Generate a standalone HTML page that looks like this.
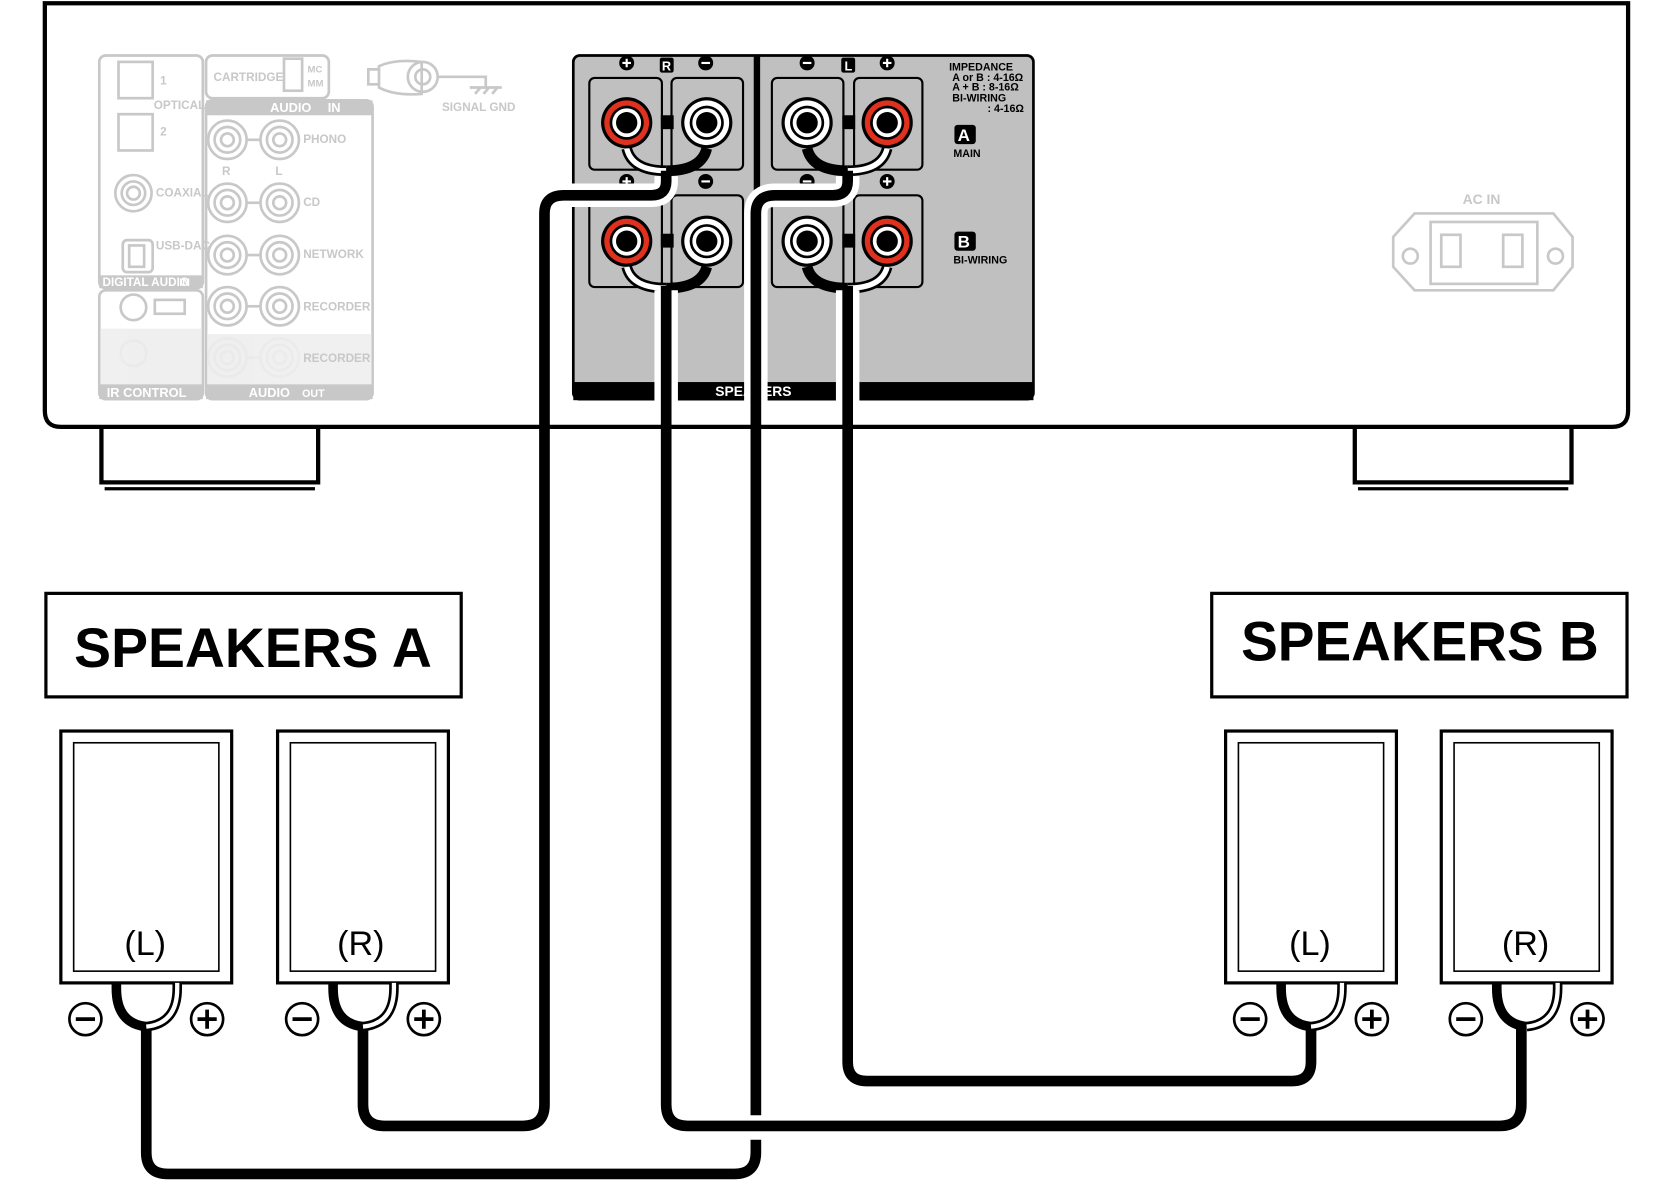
<!DOCTYPE html>
<html><head><meta charset="utf-8"><style>
html,body{margin:0;padding:0;background:#fff;width:1674px;height:1191px;overflow:hidden}
svg{display:block}
text{font-family:"Liberation Sans",sans-serif}
</style></head><body>
<svg width="1674" height="1191" viewBox="0 0 1568 1116" preserveAspectRatio="none" xmlns="http://www.w3.org/2000/svg">
<!-- chassis -->
<path d="M42 3 H1525 V385 Q1525 400 1510 400 H57 Q42 400 42 385 Z" fill="none" stroke="#000" stroke-width="4"/>
<path d="M95 400 V452 H298 V400" fill="none" stroke="#000" stroke-width="4"/>
<path d="M98 458 H295" stroke="#000" stroke-width="3"/>
<path d="M1269 400 V452 H1472 V400" fill="none" stroke="#000" stroke-width="4"/>
<path d="M1272 458 H1469" stroke="#000" stroke-width="3"/>

<!-- faded left panel -->
<g fill="none" stroke="#c8c8c8" stroke-width="2.5">
<rect x="93" y="52" width="97" height="218" rx="6"/>
<rect x="93" y="272" width="97" height="102" rx="6"/>
<rect x="193" y="52" width="115" height="40" rx="6"/>
<rect x="193" y="94" width="156" height="280" rx="6"/>
<rect x="111" y="58" width="32" height="34"/>
<rect x="111" y="107" width="32" height="34"/>
<circle cx="125" cy="181" r="17"/><circle cx="125" cy="181" r="11"/><circle cx="125" cy="181" r="6"/>
<rect x="115" y="225" width="28" height="30" rx="4"/><rect x="121" y="230" width="14" height="20"/>
<circle cx="125" cy="288" r="12"/><circle cx="125" cy="331" r="12"/>
<rect x="145" y="281" width="28" height="13"/>
<rect x="266" y="55" width="17" height="30"/>
<g id="rc"><circle cx="213" cy="131" r="18"/><circle cx="213" cy="131" r="12"/><circle cx="213" cy="131" r="6"/><circle cx="262" cy="131" r="18"/><circle cx="262" cy="131" r="12"/><circle cx="262" cy="131" r="6"/><path d="M231 131 H244"/></g>
<use href="#rc" y="59"/><use href="#rc" y="108"/><use href="#rc" y="156"/><use href="#rc" y="204"/>
<path d="M345 65 h10 v14 h-10z M355 62 Q370 55 395 58 L395 88 Q370 90 355 82 Z"/>
<circle cx="396" cy="72" r="14"/><circle cx="396" cy="72" r="7"/>
<path d="M410 72 H455 V82 M440 82 H470 M445 88 l5 -6 M453 88 l5 -6 M461 88 l5 -6"/>
<path d="M1325 200 H1455 L1473 222 V250 L1455 272 H1325 L1305 250 V222 Z"/>
<rect x="1340" y="208" width="100" height="58"/>
<rect x="1350" y="220" width="18" height="30"/><rect x="1408" y="220" width="18" height="30"/>
<circle cx="1321" cy="240" r="7"/><circle cx="1457" cy="240" r="7"/>
</g>
<g fill="#c8c8c8">
<rect x="193" y="94" width="156" height="14"/>
<rect x="93" y="258" width="97" height="12"/>
<rect x="93" y="360" width="97" height="14"/>
<rect x="193" y="360" width="156" height="14"/>
</g>
<g fill="#eee" opacity=".9"><rect x="94" y="308" width="95" height="52"/><rect x="194" y="313" width="154" height="47"/></g>
<g font-size="11" font-weight="bold" fill="#c8c8c8">
<text x="150" y="79">1</text><text x="150" y="127">2</text>
<text x="144" y="102">OPTICAL</text><text x="146" y="184">COAXIAL</text><text x="146" y="234">USB-DAC</text>
<text x="200" y="76">CARTRIDGE</text><text x="288" y="68" font-size="9">MC</text><text x="288" y="81" font-size="9">MM</text>
<text x="284" y="134">PHONO</text><text x="284" y="193">CD</text><text x="284" y="242">NETWORK</text><text x="284" y="291">RECORDER</text><text x="284" y="339">RECORDER</text>
<text x="208" y="164">R</text><text x="258" y="164">L</text>
<text x="414" y="104">SIGNAL GND</text>
<text x="1370" y="191" font-size="13">AC IN</text>
</g>
<g font-size="12" font-weight="bold" fill="#fff">
<text x="253" y="105">AUDIO</text><text x="307" y="105">IN</text>
<text x="96" y="268" font-size="11">DIGITAL AUDIO</text><text x="168" y="268" font-size="10">IN</text>
<text x="100" y="372">IR CONTROL</text><text x="233" y="372">AUDIO</text><text x="283" y="372" font-size="10">OUT</text>
</g>

<!-- speaker panel -->
<rect x="537" y="52" width="431" height="322" rx="6" fill="#c0c0c0" stroke="#000" stroke-width="2.5"/>
<rect x="537" y="358" width="431" height="17" fill="#000"/>
<rect x="706" y="52" width="6" height="308" fill="#000"/>
<text x="670" y="371" font-size="13" font-weight="bold" fill="#fff">SPEAKERS</text>
<g fill="none" stroke="#000" stroke-width="2">
<rect x="552" y="73" width="68" height="86" rx="5"/><rect x="629" y="73" width="67" height="86" rx="5"/>
<rect x="723" y="73" width="67" height="86" rx="5"/><rect x="800" y="73" width="64" height="86" rx="5"/>
<rect x="552" y="183" width="68" height="86" rx="5"/><rect x="629" y="183" width="67" height="86" rx="5"/>
<rect x="723" y="183" width="67" height="86" rx="5"/><rect x="800" y="183" width="64" height="86" rx="5"/>
</g>
<g fill="#000"><rect x="619" y="108" width="12" height="13"/><rect x="789" y="108" width="12" height="13"/><rect x="619" y="219" width="12" height="13"/><rect x="789" y="219" width="12" height="13"/></g>
<defs>
<g id="tr"><circle r="24" fill="#000"/><circle r="21" fill="#e0301e"/><circle r="16" fill="#000"/><circle r="13.5" fill="#fff"/><circle r="10" fill="#000"/></g>
<g id="tw"><circle r="24" fill="#000"/><circle r="21" fill="#fff"/><circle r="16" fill="#000"/><circle r="13.5" fill="#fff"/><circle r="10" fill="#000"/></g>
<g id="pl"><circle r="7" fill="#000"/><path d="M-4 0 H4 M0 -4 V4" stroke="#fff" stroke-width="2"/></g>
<g id="mi"><circle r="7" fill="#000"/><path d="M-4 0 H4" stroke="#fff" stroke-width="2"/></g>
</defs>
<!-- jumper arcs -->
<g fill="none" stroke-linecap="butt">
<path d="M587 139 Q592 160 624 160" stroke="#000" stroke-width="10"/><path d="M587 139 Q592 160 624 160" stroke="#fff" stroke-width="5"/>
<path d="M662 139 Q657 160 624 160" stroke="#000" stroke-width="10"/>
<path d="M831 139 Q826 160 794 160" stroke="#000" stroke-width="10"/><path d="M831 139 Q826 160 794 160" stroke="#fff" stroke-width="5"/>
<path d="M756 139 Q761 160 794 160" stroke="#000" stroke-width="10"/>
<path d="M587 250 Q592 270 624 270" stroke="#000" stroke-width="10"/><path d="M587 250 Q592 270 624 270" stroke="#fff" stroke-width="5"/>
<path d="M662 250 Q657 270 624 270" stroke="#000" stroke-width="10"/>
<path d="M831 250 Q826 270 794 270" stroke="#000" stroke-width="10"/><path d="M831 250 Q826 270 794 270" stroke="#fff" stroke-width="5"/>
<path d="M756 250 Q761 270 794 270" stroke="#000" stroke-width="10"/>
</g>
<use href="#tr" x="587" y="115"/><use href="#tw" x="662" y="115"/><use href="#tw" x="756" y="115"/><use href="#tr" x="831" y="115"/>
<use href="#tr" x="587" y="226"/><use href="#tw" x="662" y="226"/><use href="#tw" x="756" y="226"/><use href="#tr" x="831" y="226"/>
<use href="#pl" x="587" y="59"/><use href="#mi" x="661" y="59"/><use href="#mi" x="756" y="59"/><use href="#pl" x="831" y="59"/>
<use href="#pl" x="587" y="170"/><use href="#mi" x="661" y="170"/><use href="#mi" x="756" y="170"/><use href="#pl" x="831" y="170"/>
<rect x="618" y="54" width="13" height="14" rx="2" fill="#000"/><text x="620" y="66" font-size="12" font-weight="bold" fill="#fff">R</text>
<rect x="788" y="54" width="13" height="14" rx="2" fill="#000"/><text x="791" y="66" font-size="12" font-weight="bold" fill="#fff">L</text>
<g font-size="10" font-weight="bold" fill="#000">
<text x="889" y="66">IMPEDANCE</text><text x="892" y="76">A or B : 4-16Ω</text><text x="892" y="85">A  +  B : 8-16Ω</text><text x="892" y="95">BI-WIRING</text><text x="925" y="105">: 4-16Ω</text>
<text x="893" y="147">MAIN</text><text x="893" y="247">BI-WIRING</text>
</g>
<rect x="894" y="117" width="20" height="18" rx="3" fill="#000"/><text x="897" y="132" font-size="16" font-weight="bold" fill="#fff">A</text>
<rect x="894" y="217" width="20" height="18" rx="3" fill="#000"/><text x="897" y="232" font-size="16" font-weight="bold" fill="#fff">B</text>

<!-- cables -->
<g fill="none" stroke-linejoin="round">
<g stroke="#fff" stroke-width="22">
<path d="M624 165 V170 Q624 183 610 183 H528 Q510 183 510 200 V395"/>
<path d="M794 165 V170 Q794 183 780 183 H726 Q708 183 708 200 V395"/>
<path d="M624 272 V395"/>
<path d="M794 272 V395"/>
</g>
<g stroke="#000" stroke-width="10">
<path d="M624 160 V170 Q624 183 610 183 H528 Q510 183 510 200 V1035 Q510 1055 490 1055 H360 Q340 1055 340 1035 V960"/>
<path d="M624 268 V1035 Q624 1055 644 1055 H1405 Q1425 1055 1425 1035 V960"/>
<path d="M794 268 V995 Q794 1013 812 1013 H1210 Q1228 1013 1228 995 V960"/>
<path d="M794 160 V170 Q794 183 780 183 H726 Q708 183 708 200 V1045"/>
<path d="M708 1068 V1080 Q708 1100 688 1100 H157 Q137 1100 137 1080 V960"/>
</g>
</g>

<!-- titles -->
<rect x="43" y="556" width="389" height="97" fill="#fff" stroke="#000" stroke-width="3"/>
<text x="237" y="625" font-size="52" font-weight="bold" text-anchor="middle" textLength="335" lengthAdjust="spacingAndGlyphs">SPEAKERS A</text>
<rect x="1135" y="556" width="389" height="97" fill="#fff" stroke="#000" stroke-width="3"/>
<text x="1330" y="619" font-size="52" font-weight="bold" text-anchor="middle" textLength="335" lengthAdjust="spacingAndGlyphs">SPEAKERS B</text>

<!-- speakers -->
<defs>
<g id="spk">
<rect x="-79" y="-236" width="160" height="236" fill="#fff" stroke="#000" stroke-width="3"/>
<rect x="-67" y="-225" width="136" height="214" fill="none" stroke="#000" stroke-width="1.5"/>
<path d="M-27 0 V5 Q-27 38 1 41" fill="none" stroke="#000" stroke-width="9"/>
<path d="M30 0 V5 Q30 38 1 41" fill="none" stroke="#000" stroke-width="9"/>
<path d="M30 0 V5 Q30 38 1 41" fill="none" stroke="#fff" stroke-width="4"/>
<circle cx="-56" cy="34" r="15" fill="#fff" stroke="#000" stroke-width="2.5"/><path d="M-65 34 H-47" stroke="#000" stroke-width="3.5"/>
<circle cx="58" cy="34" r="15" fill="#fff" stroke="#000" stroke-width="2.5"/><path d="M49 34 H67 M58 25 V43" stroke="#000" stroke-width="3.5"/>
</g>
</defs>
<use href="#spk" x="136" y="921"/><use href="#spk" x="339" y="921"/>
<use href="#spk" x="1227" y="921"/><use href="#spk" x="1429" y="921"/>
<g font-size="32" text-anchor="middle" fill="#000">
<text x="136" y="895">(L)</text><text x="338" y="895">(R)</text><text x="1227" y="895">(L)</text><text x="1429" y="895">(R)</text>
</g>
</svg>
</body></html>
